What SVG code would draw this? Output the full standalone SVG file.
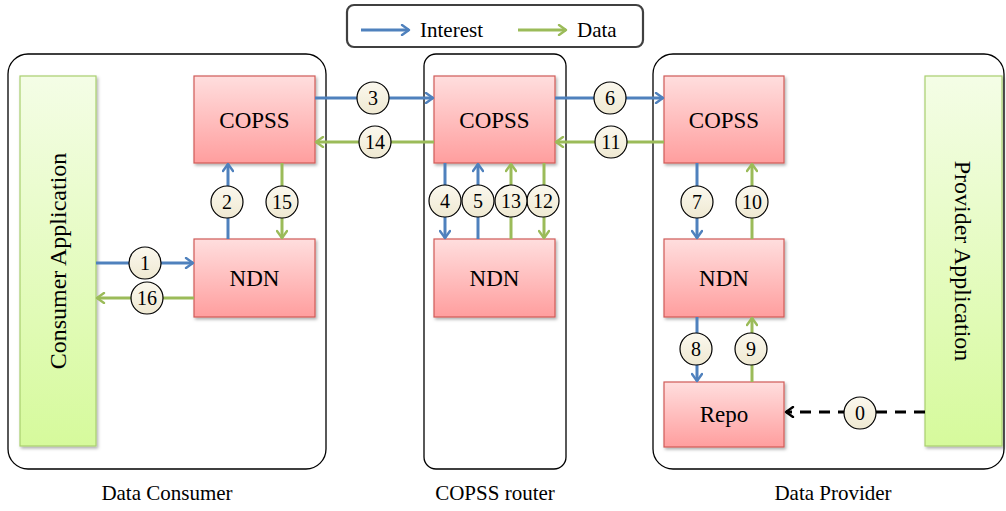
<svg xmlns="http://www.w3.org/2000/svg" width="1006" height="511" viewBox="0 0 1006 511" font-family="'Liberation Serif', 'Times New Roman', serif">
  <defs>
    <linearGradient id="gRed" x1="0" y1="0" x2="0" y2="1">
      <stop offset="0" stop-color="#ffdede"/>
      <stop offset="1" stop-color="#ff9e9e"/>
    </linearGradient>
    <linearGradient id="gGreen" x1="0" y1="0" x2="0" y2="1">
      <stop offset="0" stop-color="#f4fde6"/>
      <stop offset="1" stop-color="#d6fa9c"/>
    </linearGradient>
    <linearGradient id="gBadge" x1="0" y1="0" x2="0" y2="1">
      <stop offset="0" stop-color="#fbf8ee"/>
      <stop offset="1" stop-color="#efe9d2"/>
    </linearGradient>
    <filter id="shadow" x="-10%" y="-10%" width="125%" height="130%">
      <feDropShadow dx="1.5" dy="2" stdDeviation="1.5" flood-color="#000" flood-opacity="0.3"/>
    </filter>
    <marker id="aBlue" viewBox="0 0 12 12" refX="10" refY="6" markerWidth="12" markerHeight="12" markerUnits="userSpaceOnUse" orient="auto">
      <path d="M3,1 L10,6 L3,11" fill="none" stroke="#4f81bd" stroke-width="2.4" stroke-linecap="round" stroke-linejoin="round"/>
    </marker>
    <marker id="aGreen" viewBox="0 0 12 12" refX="10" refY="6" markerWidth="12" markerHeight="12" markerUnits="userSpaceOnUse" orient="auto">
      <path d="M3,1 L10,6 L3,11" fill="none" stroke="#9bbb59" stroke-width="2.4" stroke-linecap="round" stroke-linejoin="round"/>
    </marker>
    <marker id="aBlack" viewBox="0 0 12 12" refX="10" refY="6" markerWidth="12" markerHeight="12" markerUnits="userSpaceOnUse" orient="auto">
      <path d="M3,1 L10,6 L3,11" fill="none" stroke="#000" stroke-width="2.4" stroke-linecap="round" stroke-linejoin="round"/>
    </marker>
  </defs>
  <style>
    .frame { fill: #fff; stroke: #000; stroke-width: 1.3; }
    .box { fill: url(#gRed); stroke: #d05a58; stroke-width: 1.2; filter: url(#shadow); }
    .app { fill: url(#gGreen); stroke: #a9cf6f; stroke-width: 1.2; filter: url(#shadow); }
    .int { stroke: #4f81bd; stroke-width: 3; fill: none; marker-end: url(#aBlue); }
    .dat { stroke: #9bbb59; stroke-width: 3; fill: none; marker-end: url(#aGreen); }
    .dash { stroke: #000; stroke-width: 3; fill: none; stroke-dasharray: 11 8; marker-end: url(#aBlack); }
    .badge { fill: url(#gBadge); stroke: #000; stroke-width: 1.2; }
  </style>

  <!-- legend -->
  <g id="legend">
    <rect x="347" y="5" width="296" height="42" rx="7" fill="#fff" stroke="#404040" stroke-width="2.2"/>
    <line x1="361" y1="30" x2="409" y2="30" class="int"/>
    <text x="420" y="37" font-family="Liberation Serif" font-size="21">Interest</text>
    <line x1="518" y1="30" x2="566" y2="30" class="dat"/>
    <text x="577" y="37" font-family="Liberation Serif" font-size="21">Data</text>
  </g>

  <!-- hosts -->
  <g id="consumer-host">
    <rect x="8" y="54" width="318" height="415" rx="20" class="frame"/>
    <text x="167" y="500" font-family="Liberation Serif" font-size="21" text-anchor="middle">Data Consumer</text>
  </g>
  <g id="router-host">
    <rect x="424" y="54" width="142" height="415" rx="12" class="frame"/>
    <text x="495" y="500" font-family="Liberation Serif" font-size="21" text-anchor="middle">COPSS router</text>
  </g>
  <g id="provider-host">
    <rect x="653" y="54" width="351" height="415" rx="20" class="frame"/>
    <text x="833" y="500" font-family="Liberation Serif" font-size="21" text-anchor="middle">Data Provider</text>
  </g>

  <!-- applications -->
  <g id="consumer-app">
    <rect x="20" y="76" width="76" height="370" class="app"/>
    <text font-family="Liberation Serif" font-size="24" text-anchor="middle" transform="translate(66,261) rotate(-90)">Consumer Application</text>
  </g>
  <g id="provider-app">
    <rect x="925" y="76" width="77" height="370" class="app"/>
    <text font-family="Liberation Serif" font-size="24" text-anchor="middle" transform="translate(955,261) rotate(90)">Provider Application</text>
  </g>

  <!-- protocol boxes -->
  <g id="copss-consumer"><rect x="194" y="76" width="121" height="87" class="box"/><text x="254.5" y="128" font-family="Liberation Serif" font-size="23" text-anchor="middle">COPSS</text></g>
  <g id="ndn-consumer"><rect x="194" y="239" width="121" height="78" class="box"/><text x="254.5" y="286" font-family="Liberation Serif" font-size="23" text-anchor="middle">NDN</text></g>
  <g id="copss-router"><rect x="434" y="76" width="121" height="87" class="box"/><text x="494.5" y="128" font-family="Liberation Serif" font-size="23" text-anchor="middle">COPSS</text></g>
  <g id="ndn-router"><rect x="434" y="239" width="121" height="78" class="box"/><text x="494.5" y="286" font-family="Liberation Serif" font-size="23" text-anchor="middle">NDN</text></g>
  <g id="copss-provider"><rect x="664" y="76" width="120" height="87" class="box"/><text x="724" y="128" font-family="Liberation Serif" font-size="23" text-anchor="middle">COPSS</text></g>
  <g id="ndn-provider"><rect x="664" y="239" width="120" height="78" class="box"/><text x="724" y="286" font-family="Liberation Serif" font-size="23" text-anchor="middle">NDN</text></g>
  <g id="repo"><rect x="664" y="382" width="120" height="65" class="box"/><text x="724" y="422" font-family="Liberation Serif" font-size="23" text-anchor="middle">Repo</text></g>

  <!-- connectors -->
  <g id="connectors">
    <line x1="96" y1="263" x2="193" y2="263" class="int"/>
    <line x1="194" y1="298" x2="97" y2="298" class="dat"/>
    <line x1="228" y1="239" x2="228" y2="164" class="int"/>
    <line x1="282" y1="163" x2="282" y2="238" class="dat"/>
    <line x1="315" y1="98" x2="433" y2="98" class="int"/>
    <line x1="434" y1="142" x2="316" y2="142" class="dat"/>
    <line x1="445" y1="163" x2="445" y2="238" class="int"/>
    <line x1="478" y1="239" x2="478" y2="164" class="int"/>
    <line x1="511" y1="239" x2="511" y2="164" class="dat"/>
    <line x1="544" y1="163" x2="544" y2="238" class="dat"/>
    <line x1="555" y1="98" x2="663" y2="98" class="int"/>
    <line x1="664" y1="142" x2="556" y2="142" class="dat"/>
    <line x1="697" y1="163" x2="697" y2="238" class="int"/>
    <line x1="752" y1="239" x2="752" y2="164" class="dat"/>
    <line x1="697" y1="317" x2="697" y2="381" class="int"/>
    <line x1="752" y1="382" x2="752" y2="318" class="dat"/>
    <line x1="925" y1="412" x2="786" y2="412" class="dash"/>
  </g>

  <!-- step numbers -->
  <g id="steps">
    <circle cx="860" cy="413" r="16" class="badge"/><text x="860" y="420" font-family="Liberation Serif" font-size="20" text-anchor="middle">0</text>
    <circle cx="145" cy="263" r="16" class="badge"/><text x="145" y="270" font-family="Liberation Serif" font-size="20" text-anchor="middle">1</text>
    <circle cx="227" cy="202" r="16" class="badge"/><text x="227" y="209" font-family="Liberation Serif" font-size="20" text-anchor="middle">2</text>
    <circle cx="373" cy="98" r="16" class="badge"/><text x="373" y="105" font-family="Liberation Serif" font-size="20" text-anchor="middle">3</text>
    <circle cx="445" cy="201" r="16" class="badge"/><text x="445" y="208" font-family="Liberation Serif" font-size="20" text-anchor="middle">4</text>
    <circle cx="478" cy="201" r="16" class="badge"/><text x="478" y="208" font-family="Liberation Serif" font-size="20" text-anchor="middle">5</text>
    <circle cx="610" cy="98" r="16" class="badge"/><text x="610" y="105" font-family="Liberation Serif" font-size="20" text-anchor="middle">6</text>
    <circle cx="697" cy="202" r="16" class="badge"/><text x="697" y="209" font-family="Liberation Serif" font-size="20" text-anchor="middle">7</text>
    <circle cx="696" cy="349" r="16" class="badge"/><text x="696" y="356" font-family="Liberation Serif" font-size="20" text-anchor="middle">8</text>
    <circle cx="751" cy="349" r="16" class="badge"/><text x="751" y="356" font-family="Liberation Serif" font-size="20" text-anchor="middle">9</text>
    <circle cx="752" cy="202" r="16" class="badge"/><text x="752" y="209" font-family="Liberation Serif" font-size="20" text-anchor="middle">10</text>
    <circle cx="611" cy="142" r="16" class="badge"/><text x="611" y="149" font-family="Liberation Serif" font-size="20" text-anchor="middle">11</text>
    <circle cx="543" cy="201" r="16" class="badge"/><text x="543" y="208" font-family="Liberation Serif" font-size="20" text-anchor="middle">12</text>
    <circle cx="511" cy="201" r="16" class="badge"/><text x="511" y="208" font-family="Liberation Serif" font-size="20" text-anchor="middle">13</text>
    <circle cx="375" cy="142" r="16" class="badge"/><text x="375" y="149" font-family="Liberation Serif" font-size="20" text-anchor="middle">14</text>
    <circle cx="282" cy="202" r="16" class="badge"/><text x="282" y="209" font-family="Liberation Serif" font-size="20" text-anchor="middle">15</text>
    <circle cx="147" cy="298" r="16" class="badge"/><text x="147" y="305" font-family="Liberation Serif" font-size="20" text-anchor="middle">16</text>
  </g>
</svg>
